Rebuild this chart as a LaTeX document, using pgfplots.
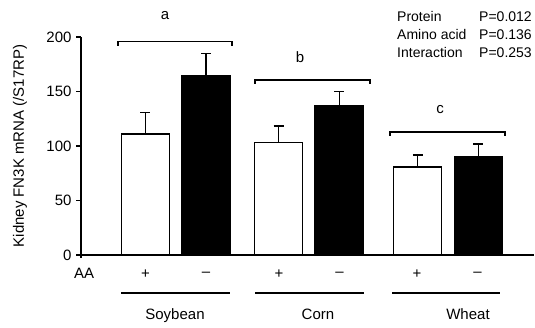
\documentclass[border=0pt]{standalone}
\usepackage{fontspec}
\setmainfont{Liberation Sans}
\usepackage{pgfplots}
\pgfplotsset{compat=1.18}
\newcommand\lbl{\fontsize{15}{17}\selectfont}
\newcommand\pval{\fontsize{14}{16}\selectfont}

\begin{document}
\begin{tikzpicture}[font=\lbl]
\useasboundingbox (0pt,0pt) rectangle (535pt,328pt);
\begin{axis}[
  at={(81pt,73pt)}, anchor=south west,
  scale only axis, width=453pt, height=218pt,
  xmin=-1.066, xmax=6.421, ymin=0, ymax=200,
  axis x line=bottom, axis y line=left,
  axis line style={-, line width=1.3pt},
  xtick=\empty, ytick={0,50,100,150,200},
  tick align=outside, major tick length=5pt,
  tick style={line width=1.3pt, black},
  yticklabel style={font=\lbl, xshift=-1pt},
  /pgf/number format/assume math mode=true,
  ylabel={Kidney FN3K mRNA (/S17RP)},
  ylabel style={at={(axis description cs:-0.1347,0.5)}, anchor=center, font=\lbl},
  ybar, bar width=48pt, bar shift=0pt, clip=false,
  error bars/error bar style={line width=1.2pt, black},
  error bars/error mark options={rotate=90, mark size=5pt, line width=1.2pt, black},
]
% with amino acids (+)
\addplot[draw=black, fill=white, line width=1.3pt,
  error bars/.cd, y dir=plus, y explicit]
  coordinates {(0,111) +- (0,20) (2.2,103.4) +- (0,15) (4.5,80.7) +- (0,11)};
% without amino acids (-)
\addplot[draw=black, fill=black, line width=1.3pt,
  error bars/.cd, y dir=plus, y explicit]
  coordinates {(1,164.2) +- (0,21) (3.2,136.7) +- (0,13) (5.5,89.9) +- (0,12)};
\end{axis}

\begin{scope}[x=1pt,y=1pt]
% y axis runs a little below zero
\draw[line width=1.3pt] (81,73) -- (81,69.5);
% significance brackets
\draw[line width=1.2pt] (118,282.3) -- (118,286.3) -- (232,286.3) -- (232,282.3);
\draw[line width=1.2pt] (255,244) -- (255,248) -- (370,248) -- (370,244);
\draw[line width=1.2pt] (390,192) -- (390,196) -- (505,196) -- (505,192);
\node at (165,312) {a};
\node at (300,271) {b};
\node at (440,218) {c};

% AA rows and protein groups
\node[anchor=base west, inner sep=0pt] at (74,49) {AA};
\foreach \x in {145.5,279,417} \node at (\x,54) {+};
\foreach \x in {206,339.5,477.5} \node at (\x,54) {–};
\draw[line width=1.5pt] (121,35) -- (230,35);
\draw[line width=1.5pt] (255,35) -- (364,35);
\draw[line width=1.5pt] (392,35) -- (500,35);
\node[anchor=base] at (175,8) {Soybean};
\node[anchor=base] at (318,8) {Corn};
\node[anchor=base] at (468,8) {Wheat};

% two-way ANOVA results
\begin{scope}[every node/.style={anchor=base west, inner sep=0pt, font=\pval}]
\node at (397,306) {Protein};
\node at (397,288) {Amino acid};
\node at (397,270.3) {Interaction};
\node at (479,306) {P=0.012};
\node at (479,288) {P=0.136};
\node at (479,270.3) {P=0.253};
\end{scope}
\end{scope}
\end{tikzpicture}
\end{document}
